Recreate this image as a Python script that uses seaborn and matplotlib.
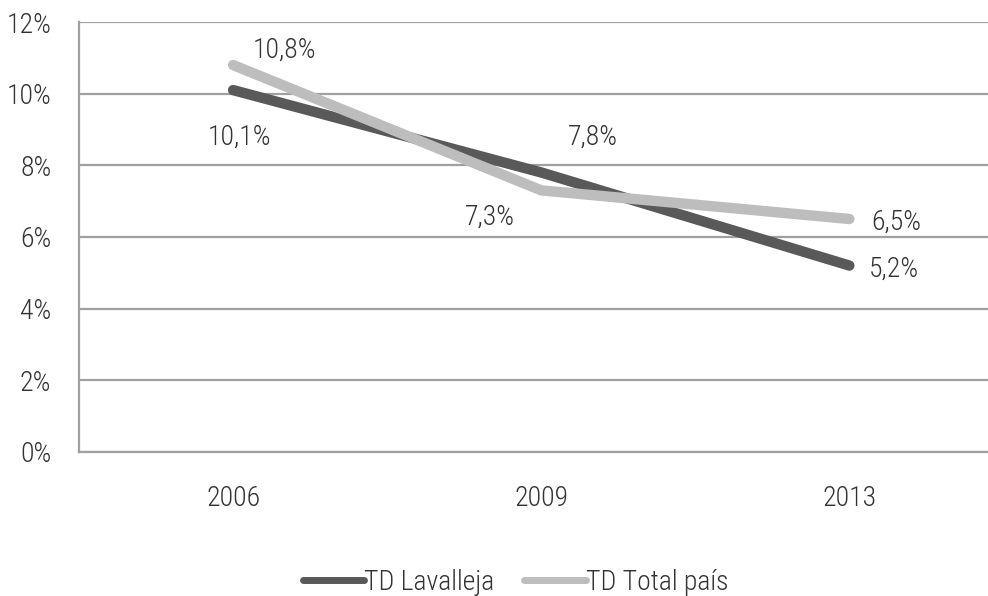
import pandas as pd
import seaborn as sns
import matplotlib.pyplot as plt
from matplotlib.ticker import FuncFormatter

years = ['2006', '2009', '2013']
series_names = ['TD Lavalleja', 'TD Total país']
lavalleja = [10.1, 7.8, 5.2]
total_pais = [10.8, 7.3, 6.5]
label_offsets = {
    'TD Lavalleja': [(6, -47), (52, 35), (45, -4)],
    'TD Total país': [(51, 15), (-51, -27), (47, -3)],
}

df = pd.DataFrame({
    'year': years * 2,
    'value': lavalleja + total_pais,
    'serie': [series_names[0]] * 3 + [series_names[1]] * 3,
})

sns.set_style('white')
plt.rcParams['font.family'] = ['Roboto Condensed', 'Liberation Sans Narrow', 'Roboto', 'DejaVu Sans']
plt.rcParams['font.weight'] = 'light'
fs = 20

fig, ax = plt.subplots(figsize=(9.88, 5.96), dpi=100)
fig.subplots_adjust(left=0.08, right=1.0, top=0.963, bottom=0.242)

palette = {'TD Lavalleja': '#595959', 'TD Total país': '#bdbdbd'}
sns.lineplot(data=df, x='year', y='value', hue='serie', palette=palette,
             linewidth=7.5, ax=ax, sort=False, legend=True,
             solid_capstyle='round')

ax.set_ylim(0, 12)
ax.set_xlim(-0.5, 2.45)
ax.set_yticks(range(0, 13, 2))
ax.yaxis.set_major_formatter(FuncFormatter(lambda v, p: f'{int(v)}%'))
ax.grid(axis='y', color='#a0a0a0', linewidth=1.6)
ax.set_axisbelow(True)
ax.tick_params(axis='both', length=0, colors='#333333', labelsize=fs)
ax.tick_params(axis='x', pad=24)
ax.tick_params(axis='y', pad=20)
ax.set_xlabel('')
ax.set_ylabel('')
for s in ['top', 'right']:
    ax.spines[s].set_visible(False)
for s in ['left', 'bottom']:
    ax.spines[s].set_color('#a0a0a0')
    ax.spines[s].set_linewidth(1.6)

for name, vals in zip(series_names, [lavalleja, total_pais]):
    for i, v in enumerate(vals):
        dx, dy = label_offsets[name][i]
        ax.annotate(f'{v:.1f}%'.replace('.', ','), (i, v), xytext=(dx, dy),
                    textcoords='offset pixels', ha='center', va='center',
                    fontsize=fs, color='#333333')

leg = ax.legend(loc='upper center', bbox_to_anchor=(0.48, -0.215), ncol=2,
                frameon=False, handlelength=2.2, handletextpad=0.0,
                columnspacing=1.1, fontsize=fs)
for line in leg.get_lines():
    line.set_linewidth(5)
    line.set_solid_capstyle('round')
for t in leg.get_texts():
    t.set_color('#333333')

fig.savefig('out.png', dpi=100)
